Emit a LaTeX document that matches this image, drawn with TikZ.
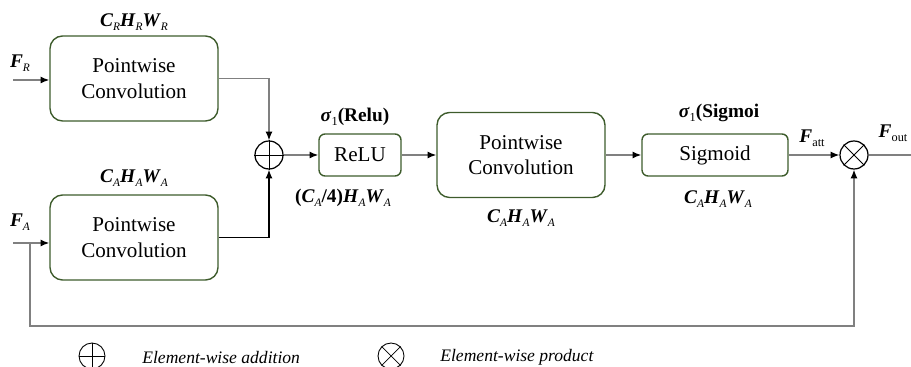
\documentclass[tikz,border=0pt]{standalone}
\usepackage{fontspec}
\setmainfont{Liberation Serif}
\usetikzlibrary{arrows.meta}
\definecolor{boxgreen}{RGB}{62,92,44}
\definecolor{linegray}{RGB}{128,128,128}
\newcommand{\dimsub}[2]{\textbf{\textit{#1}}\raisebox{-0.5ex}{\fontsize{6.5}{6.5}\selectfont\textit{#2}}}
\newcommand{\upsub}[2]{\textbf{\textit{#1}}\raisebox{-0.5ex}{\fontsize{7}{7}\selectfont #2}}
\tikzset{
	conv/.style={draw=boxgreen, line width=0.8pt, rounded corners=0.25cm, minimum width=3.36cm, minimum height=1.7cm, align=center, font=\fontsize{12}{14.5}\selectfont},
	act/.style={draw=boxgreen, line width=0.8pt, rounded corners=0.12cm, minimum height=0.84cm, font=\fontsize{12}{14.5}\selectfont},
	op/.style={draw, circle, line width=0.7pt, minimum size=0.56cm, inner sep=0pt},
	lbl/.style={font=\fontsize{11}{13}\selectfont, inner sep=0pt},
	key/.style={anchor=west, inner sep=0pt, font=\itshape\fontsize{10}{12}\selectfont},
	flow/.style={color=linegray, line width=0.8pt, -{Latex[black,length=5pt,width=4pt]}}
}
\begin{document}
\begin{tikzpicture}[x=0.02cm, y=-0.02cm]
	\useasboundingbox (0,0) rectangle (911,367);
	\node[conv] (pwR)at(134, 78.5) {Pointwise\\Convolution};
	\node[conv] (pwA)at(134, 237.5) {Pointwise\\Convolution};
	\node[op] (add)at(269, 155) {};
	\node[act, minimum width=1.64cm] (relu)at(360, 155) {ReLU};
	\node[conv] (pwM)at(521, 155) {Pointwise\\Convolution};
	\node[act, minimum width=2.92cm] (sig)at(715, 155) {Sigmoid};
	\node[op] (mul)at(854, 155) {};
	\draw[line width=0.5pt] (add.north) -- (add.south) (add.west) -- (add.east);
	\draw[line width=0.5pt] (mul.north west) -- (mul.south east) (mul.north east) -- (mul.south west);
	\node[lbl] (dimR)at(134, 22) {\dimsub{C}{R}\dimsub{H}{R}\dimsub{W}{R}};
	\node[lbl] (dimA)at(134, 178) {\dimsub{C}{A}\dimsub{H}{A}\dimsub{W}{A}};
	\node[lbl] (fR)at(20, 63) {\dimsub{F}{R}};
	\node[lbl] (fA)at(20, 222) {\dimsub{F}{A}};
	\node[lbl] (reluTop)at(355, 117) {\upsub{σ}{1}\textbf{(Relu)}};
	\node[lbl] (reluDim)at(343, 198) {\textbf{(}\dimsub{C}{A}\textbf{/4)}\dimsub{H}{A}\dimsub{W}{A}};
	\node[lbl] (pwMDim)at(521, 218) {\dimsub{C}{A}\dimsub{H}{A}\dimsub{W}{A}};
	\node[lbl] (sigTop)at(719, 113) {\upsub{σ}{1}\textbf{(Sigmoi}};
	\node[lbl] (sigDim)at(718, 199) {\dimsub{C}{A}\dimsub{H}{A}\dimsub{W}{A}};
	\node[lbl] (fAtt)at(812, 138) {\upsub{F}{att}};
	\node[lbl] (fOut)at(893, 133) {\upsub{F}{out}};
	\coordinate (inR)at(13, 80);
	\coordinate (inA)at(13, 243);
	\coordinate (tap)at(30, 243);
	\coordinate (out)at(911, 155);
	\draw[flow] (inR) -- (pwR.west |- inR);
	\draw[flow] (inA) -- (pwA.west |- inA);
	\draw[flow] (pwR.east) -| (add.north);
	\draw[flow, color=black] (pwA.east) -| (add.south);
	\draw[flow] (add) -- (relu);
	\draw[flow] (relu) -- (pwM);
	\draw[flow] (pwM) -- (sig);
	\draw[flow] (sig) -- (mul);
	\draw[color=linegray, line width=0.8pt] (mul) -- (out);
	\draw[flow] (tap) -- ++(0, 83) -| (mul.south);
	\node[op, line width=0.5pt, minimum size=0.52cm] (addKey)at(92, 356) {};
	\draw[line width=0.4pt] (addKey.north) -- (addKey.south) (addKey.west) -- (addKey.east);
	\node[key] (addTxt)at(142, 357) {Element-wise addition};
	\node[op, line width=0.5pt, minimum size=0.52cm] (mulKey)at(391, 356) {};
	\draw[line width=0.4pt] (mulKey.north west) -- (mulKey.south east) (mulKey.north east) -- (mulKey.south west);
	\node[key] (mulTxt)at(440, 357) {Element-wise product};
\end{tikzpicture}
\end{document}
